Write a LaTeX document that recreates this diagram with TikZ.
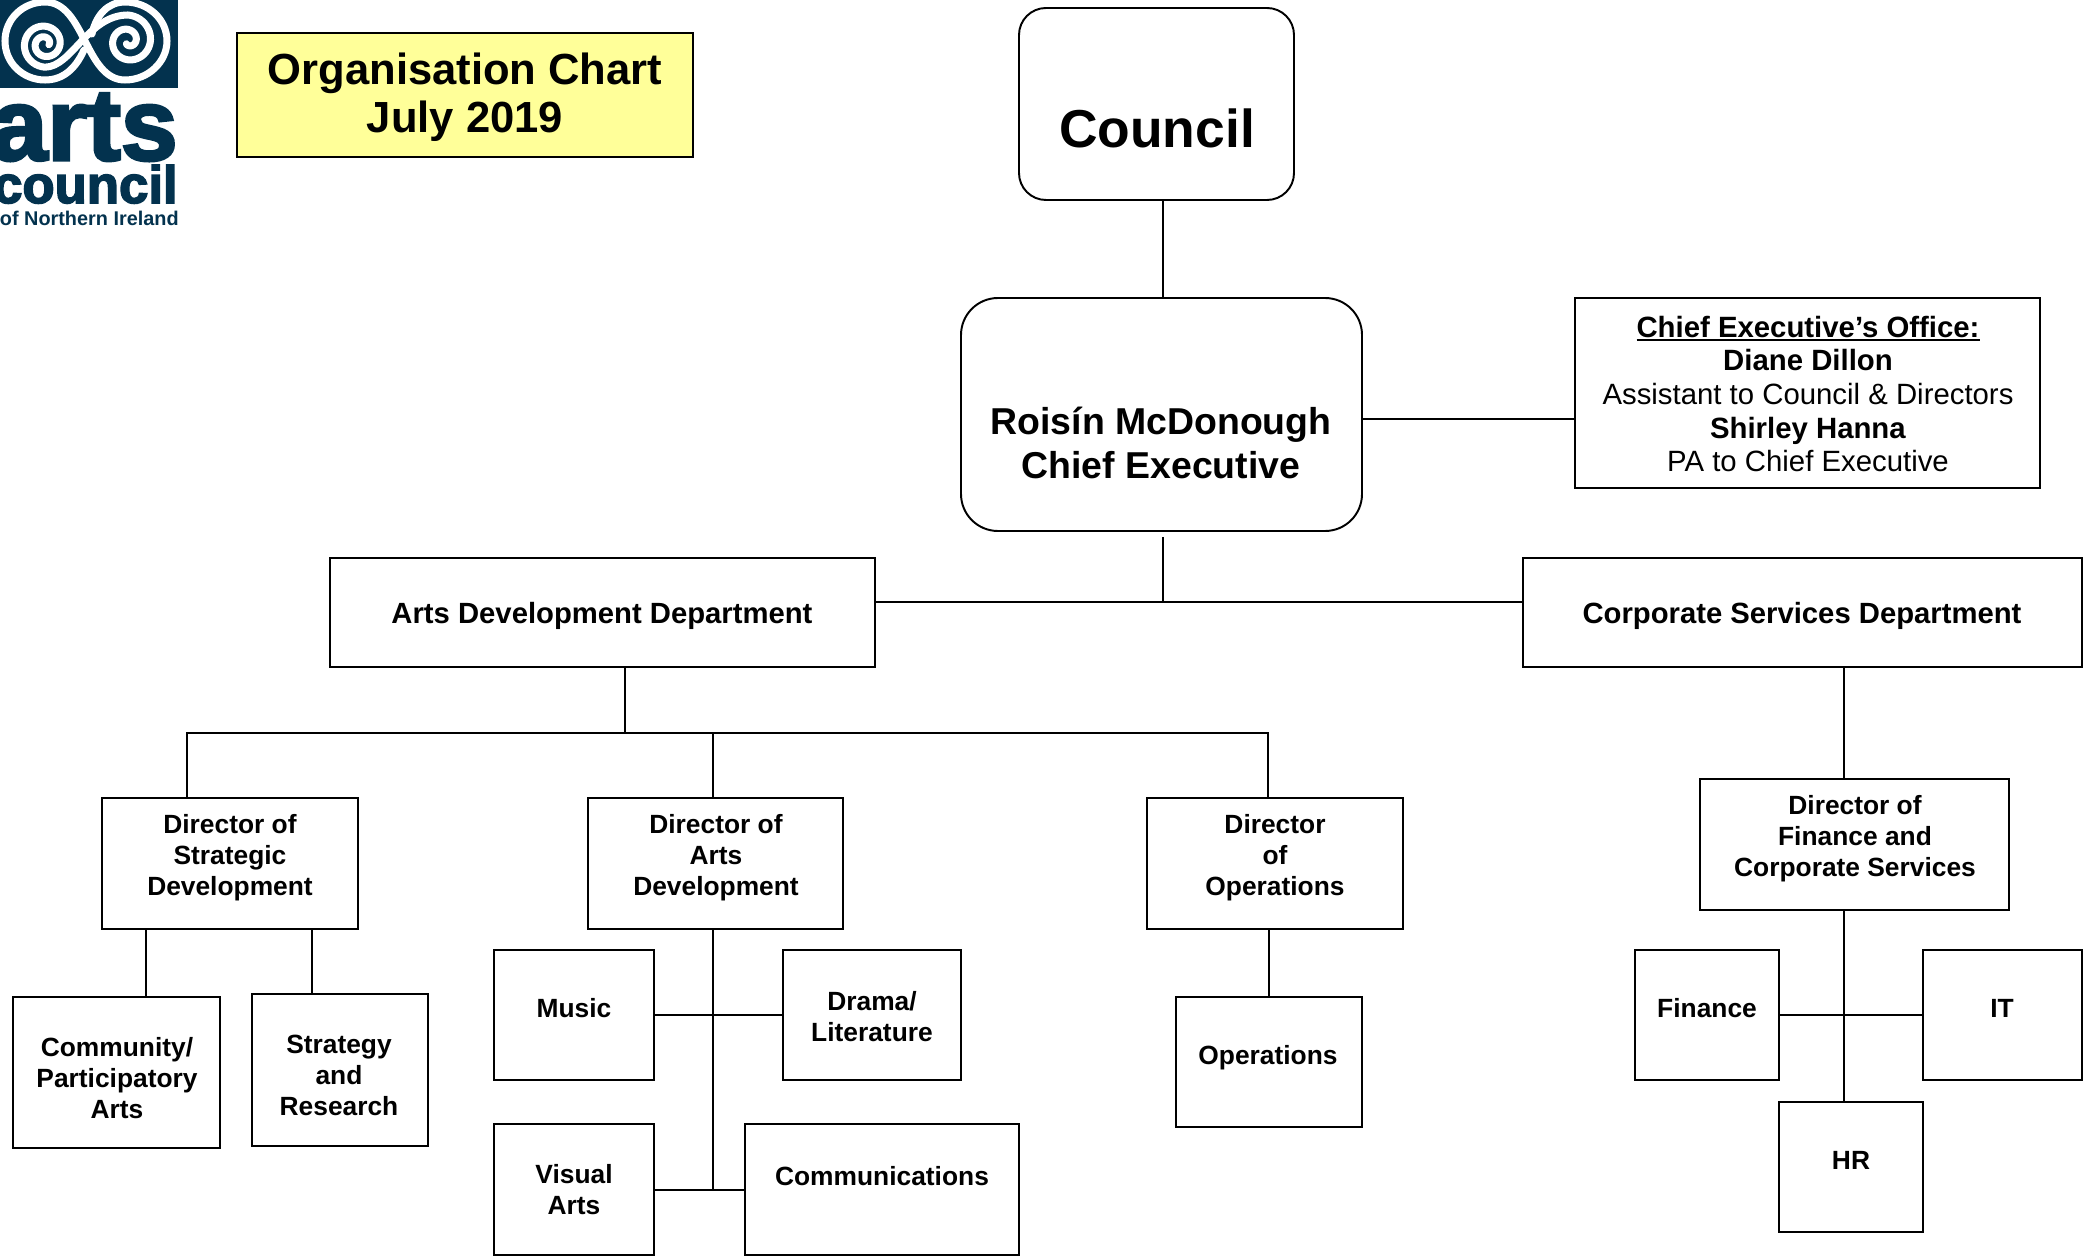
\documentclass[tikz,border=0pt]{standalone}
\usepackage{fontspec}
\usepackage{xcolor}
\setmainfont{Liberation Sans}
\newfontfamily\logofont[FakeBold=3]{Liberation Sans Bold}
\definecolor{logonavy}{RGB}{3,50,78}
\definecolor{titleyellow}{RGB}{255,255,153}
\newcommand{\heavyline}[1]{\vtop{\hbox{#1}\kern 1pt\hrule height 1.1pt}}
\tikzset{
  orgbox/.style 2 args={draw=black,line width=1.1pt,inner sep=0pt,minimum width=#1*0.02cm,minimum height=#2*0.02cm},
  deptbox/.style 2 args={orgbox={#1}{#2},line width=1.6pt},
  orgtext/.style={align=center,inner sep=0pt,font=\fontsize{15}{17.6}\selectfont\bfseries},
  depttext/.style={align=center,inner sep=0pt,font=\fontsize{16.65}{19}\selectfont\bfseries},
  orgline/.style={draw=black,line width=1.1pt},
  logoline/.style={draw=white,line width=4pt,line cap=round,line join=round},
  logotext/.style={anchor=base east,inner sep=0pt,text=logonavy}
}
\begin{document}
\begin{tikzpicture}[x=0.02cm,y=-0.02cm]
\useasboundingbox (0,0) rectangle (2089,1256);

% Logo
\fill[logonavy] (0,0) rectangle (178,88);
\draw[logoline] plot[domain=-100:540,samples=80,smooth] ({45-(7+0.03*\x)*sin(\x)},{44-(7+0.03*\x)*cos(\x)})
  .. controls (72,67) and (88,15) .. (128,15)
  -- plot[domain=0:570,samples=80,smooth] ({128+(26-0.04*\x)*sin(\x)},{41-(26-0.04*\x)*cos(\x)});
\draw[logoline] (84,50) .. controls (75,70) and (62,80) .. (45,80)
  .. controls (23,80) and (5,63) .. (5,41)
  .. controls (5,19) and (23,2) .. (45,2)
  .. controls (85,2) and (85,80) .. (125,80)
  .. controls (148,80) and (167,62) .. (167,41)
  .. controls (167,19) and (148,2) .. (125,2)
  .. controls (108,2) and (96,15) .. (92,34);
\node[logotext,font=\fontsize{58}{58}\logofont] (logoarts) at (178,160) {arts};
\node[logotext,font=\fontsize{30}{30}\logofont] (logocouncil) at (178,203) {council};
\node[logotext,font=\fontsize{11.3}{11.3}\selectfont\bfseries] (logoplace) at (179,226) {of Northern Ireland};

% Title
\node[orgbox={456}{124},fill=titleyellow] (title) at (465,95) {};
\node[align=center,inner sep=0pt,font=\fontsize{24.8}{27.6}\selectfont\bfseries] (titletext) at (465,97) {Organisation Chart\\July 2019};

% Council and Chief Executive
\node[orgbox={275}{192},rounded corners=0.54cm] (council) at (1156.5,104) {};
\node[inner sep=0pt,font=\fontsize{30.4}{34}\selectfont\bfseries] (counciltext) at (1157,128) {Council};
\node[orgbox={401}{233},rounded corners=0.74cm] (ce) at (1161.5,414.5) {};
\node[align=center,inner sep=0pt,font=\fontsize{21.3}{25}\selectfont\bfseries] (cetext) at (1161,443) {Roisín McDonough\\Chief Executive};

% Office
\node[orgbox={465}{190}] (office) at (1807.5,393) {};
\node[align=center,inner sep=0pt,font=\fontsize{16.7}{19.2}\selectfont] (officetext) at (1808,394) {\textbf{\heavyline{Chief Executive’s Office:}}\\\textbf{Diane Dillon}\\Assistant to Council \& Directors\\\textbf{Shirley Hanna}\\PA to Chief Executive};

% Departments
\node[deptbox={545}{109}] (arts) at (602.5,612.5) {};
\node[depttext] (artstext) at (602,616) {Arts Development Department};
\node[deptbox={559}{109}] (corp) at (1802.5,612.5) {};
\node[depttext] (corptext) at (1802,616) {Corporate Services Department};

% Directors
\node[orgbox={256}{131}] (dirstrat) at (230,863.5) {};
\node[orgtext] (dirstrattext) at (230,857.5) {Director of\\Strategic\\Development};
\node[orgbox={255}{131}] (dirarts) at (715.5,863.5) {};
\node[orgtext] (dirartstext) at (716,857.5) {Director of\\Arts\\Development};
\node[orgbox={256}{131}] (dirops) at (1275,863.5) {};
\node[orgtext] (diropstext) at (1275,857.5) {Director\\of\\Operations};
\node[orgbox={309}{131}] (dirfin) at (1854.5,844.5) {};
\node[orgtext] (dirfintext) at (1855,838.5) {Director of\\Finance and\\Corporate Services};

% Sections
\node[orgbox={207}{151}] (community) at (116.5,1072.5) {};
\node[orgtext] (communitytext) at (117,1078) {Community/\\Participatory\\Arts};
\node[orgbox={176}{152}] (strategy) at (340,1070) {};
\node[orgtext] (strategytext) at (339,1075) {Strategy\\and\\Research};
\node[orgbox={160}{130}] (music) at (574,1015) {};
\node[orgtext] (musictext) at (574,1008) {Music};
\node[orgbox={178}{130}] (drama) at (872,1015) {};
\node[orgtext] (dramatext) at (872,1017) {Drama/\\Literature};
\node[orgbox={160}{131}] (visual) at (574,1189.5) {};
\node[orgtext] (visualtext) at (574,1190) {Visual\\Arts};
\node[orgbox={274}{131}] (comms) at (882,1189.5) {};
\node[orgtext] (commstext) at (882,1176) {Communications};
\node[orgbox={186}{130}] (operations) at (1269,1062) {};
\node[orgtext] (operationstext) at (1268,1058) {Operations};
\node[orgbox={144}{130}] (finance) at (1707,1015) {};
\node[orgtext] (financetext) at (1707,1008) {Finance};
\node[orgbox={159}{130}] (it) at (2002.5,1015) {};
\node[orgtext] (ittext) at (2002,1008) {IT};
\node[orgbox={144}{130}] (hr) at (1851,1167) {};
\node[orgtext] (hrtext) at (1851,1160) {HR};

% Connector points
\coordinate (ceaxis) at (1163,537);
\coordinate (deptbus) at (1163,602);
\coordinate (artsbus) at (625,733);
\coordinate (busleft) at (187,733);
\coordinate (busmid) at (713,733);
\coordinate (busright) at (1268,733);
\coordinate (strataxisa) at (146,929);
\coordinate (strataxisb) at (312,929);
\coordinate (artsaxis) at (713,1190);
\coordinate (artsjoin) at (713,1015);
\coordinate (officejoin) at (1362,419);
\coordinate (corpaxis) at (1844,667);
\coordinate (finjoin) at (1844,1015);

% Connectors
\draw[orgline] (council.south -| ceaxis) -- (ce.north -| ceaxis);
\draw[orgline] (officejoin) -- (office.west |- officejoin);
\draw[orgline] (ceaxis) -- (deptbus);
\draw[orgline] (arts.east |- deptbus) -- (corp.west |- deptbus);
\draw[orgline] (arts.south -| artsbus) -- (artsbus);
\draw[orgline] (dirstrat.north -| busleft) -- (busleft) -- (busright) -- (dirops.north -| busright);
\draw[orgline] (busmid) -- (dirarts.north -| busmid);
\draw[orgline] (strataxisa) -- (community.north -| strataxisa);
\draw[orgline] (strataxisb) -- (strategy.north -| strataxisb);
\draw[orgline] (dirarts.south -| artsaxis) -- (artsaxis);
\draw[orgline] (music.east |- artsjoin) -- (drama.west |- artsjoin);
\draw[orgline] (visual.east |- artsaxis) -- (comms.west |- artsaxis);
\draw[orgline] (dirops.south -| operations.north) -- (operations.north);
\draw[orgline] (corpaxis) -- (dirfin.north -| corpaxis);
\draw[orgline] (dirfin.south -| corpaxis) -- (hr.north -| corpaxis);
\draw[orgline] (finance.east |- finjoin) -- (it.west |- finjoin);

\end{tikzpicture}
\end{document}
